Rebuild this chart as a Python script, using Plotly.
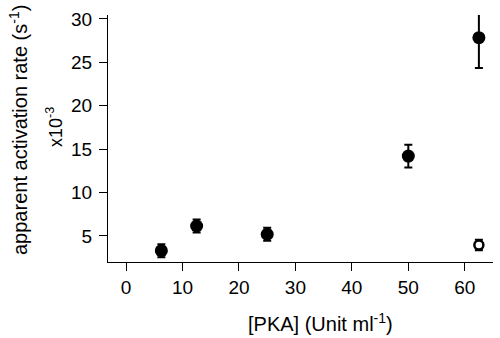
import plotly.graph_objects as go

# [PKA] concentrations (Unit/ml) and apparent activation rates (x10^-3 s^-1)
pka_filled = [6.25, 12.5, 25, 50, 62.5]
rate_filled = [3.3, 6.15, 5.2, 14.2, 27.85]
err_filled = [0.75, 0.75, 0.75, 1.3, 3.5]

pka_open = [62.5]
rate_open = [3.95]
err_open = [0.6]

x_ticks = [0, 10, 20, 30, 40, 50, 60]
y_ticks = [5, 10, 15, 20, 25, 30]

font = dict(family="Liberation Sans, Arial, sans-serif", size=19, color="black")

fig = go.Figure()
fig.add_trace(go.Scatter(
    x=pka_filled, y=rate_filled, mode="markers",
    marker=dict(size=13, color="black"),
    error_y=dict(type="data", array=err_filled, color="black", thickness=2, width=4),
    showlegend=False,
))
fig.add_trace(go.Scatter(
    x=pka_open, y=rate_open, mode="markers",
    marker=dict(size=9, color="white", line=dict(color="black", width=2.5)),
    error_y=dict(type="data", array=err_open, color="black", thickness=2, width=4),
    showlegend=False,
))

fig.update_layout(
    width=500, height=338,
    margin=dict(l=108, r=7, t=15, b=76),
    paper_bgcolor="white", plot_bgcolor="white",
    font=font,
    xaxis=dict(
        range=[-3.2, 65], tickvals=x_ticks, showgrid=False, zeroline=False,
        showline=True, linecolor="black", linewidth=1,
        ticks="outside", ticklen=8, tickcolor="black",
    ),
    yaxis=dict(
        range=[2.0, 30.46], tickvals=y_ticks, showgrid=False, zeroline=False,
        showline=True, linecolor="black", linewidth=1,
        ticks="outside", ticklen=8, tickcolor="black", ticklabelstandoff=3,
    ),
    annotations=[
        dict(text="[PKA] (Unit ml<sup>-1</sup>)",
             xref="paper", yref="paper", x=(320 - 108) / 385, y=(262 - 322) / 247,
             xanchor="center", yanchor="middle",
             showarrow=False, font=dict(size=20)),
        dict(text="apparent activation rate (s<sup>-1</sup>)", textangle=-90,
             xref="paper", yref="paper", x=(18 - 108) / 385, y=(262 - 130) / 247,
             xanchor="center", yanchor="middle",
             showarrow=False, font=dict(size=20)),
        dict(text="x10<sup>-3</sup>", textangle=-90,
             xref="paper", yref="paper", x=(55 - 108) / 385, y=(262 - 127) / 247,
             xanchor="center", yanchor="middle",
             showarrow=False, font=dict(size=18)),
    ],
)

fig.write_html("out.html")
